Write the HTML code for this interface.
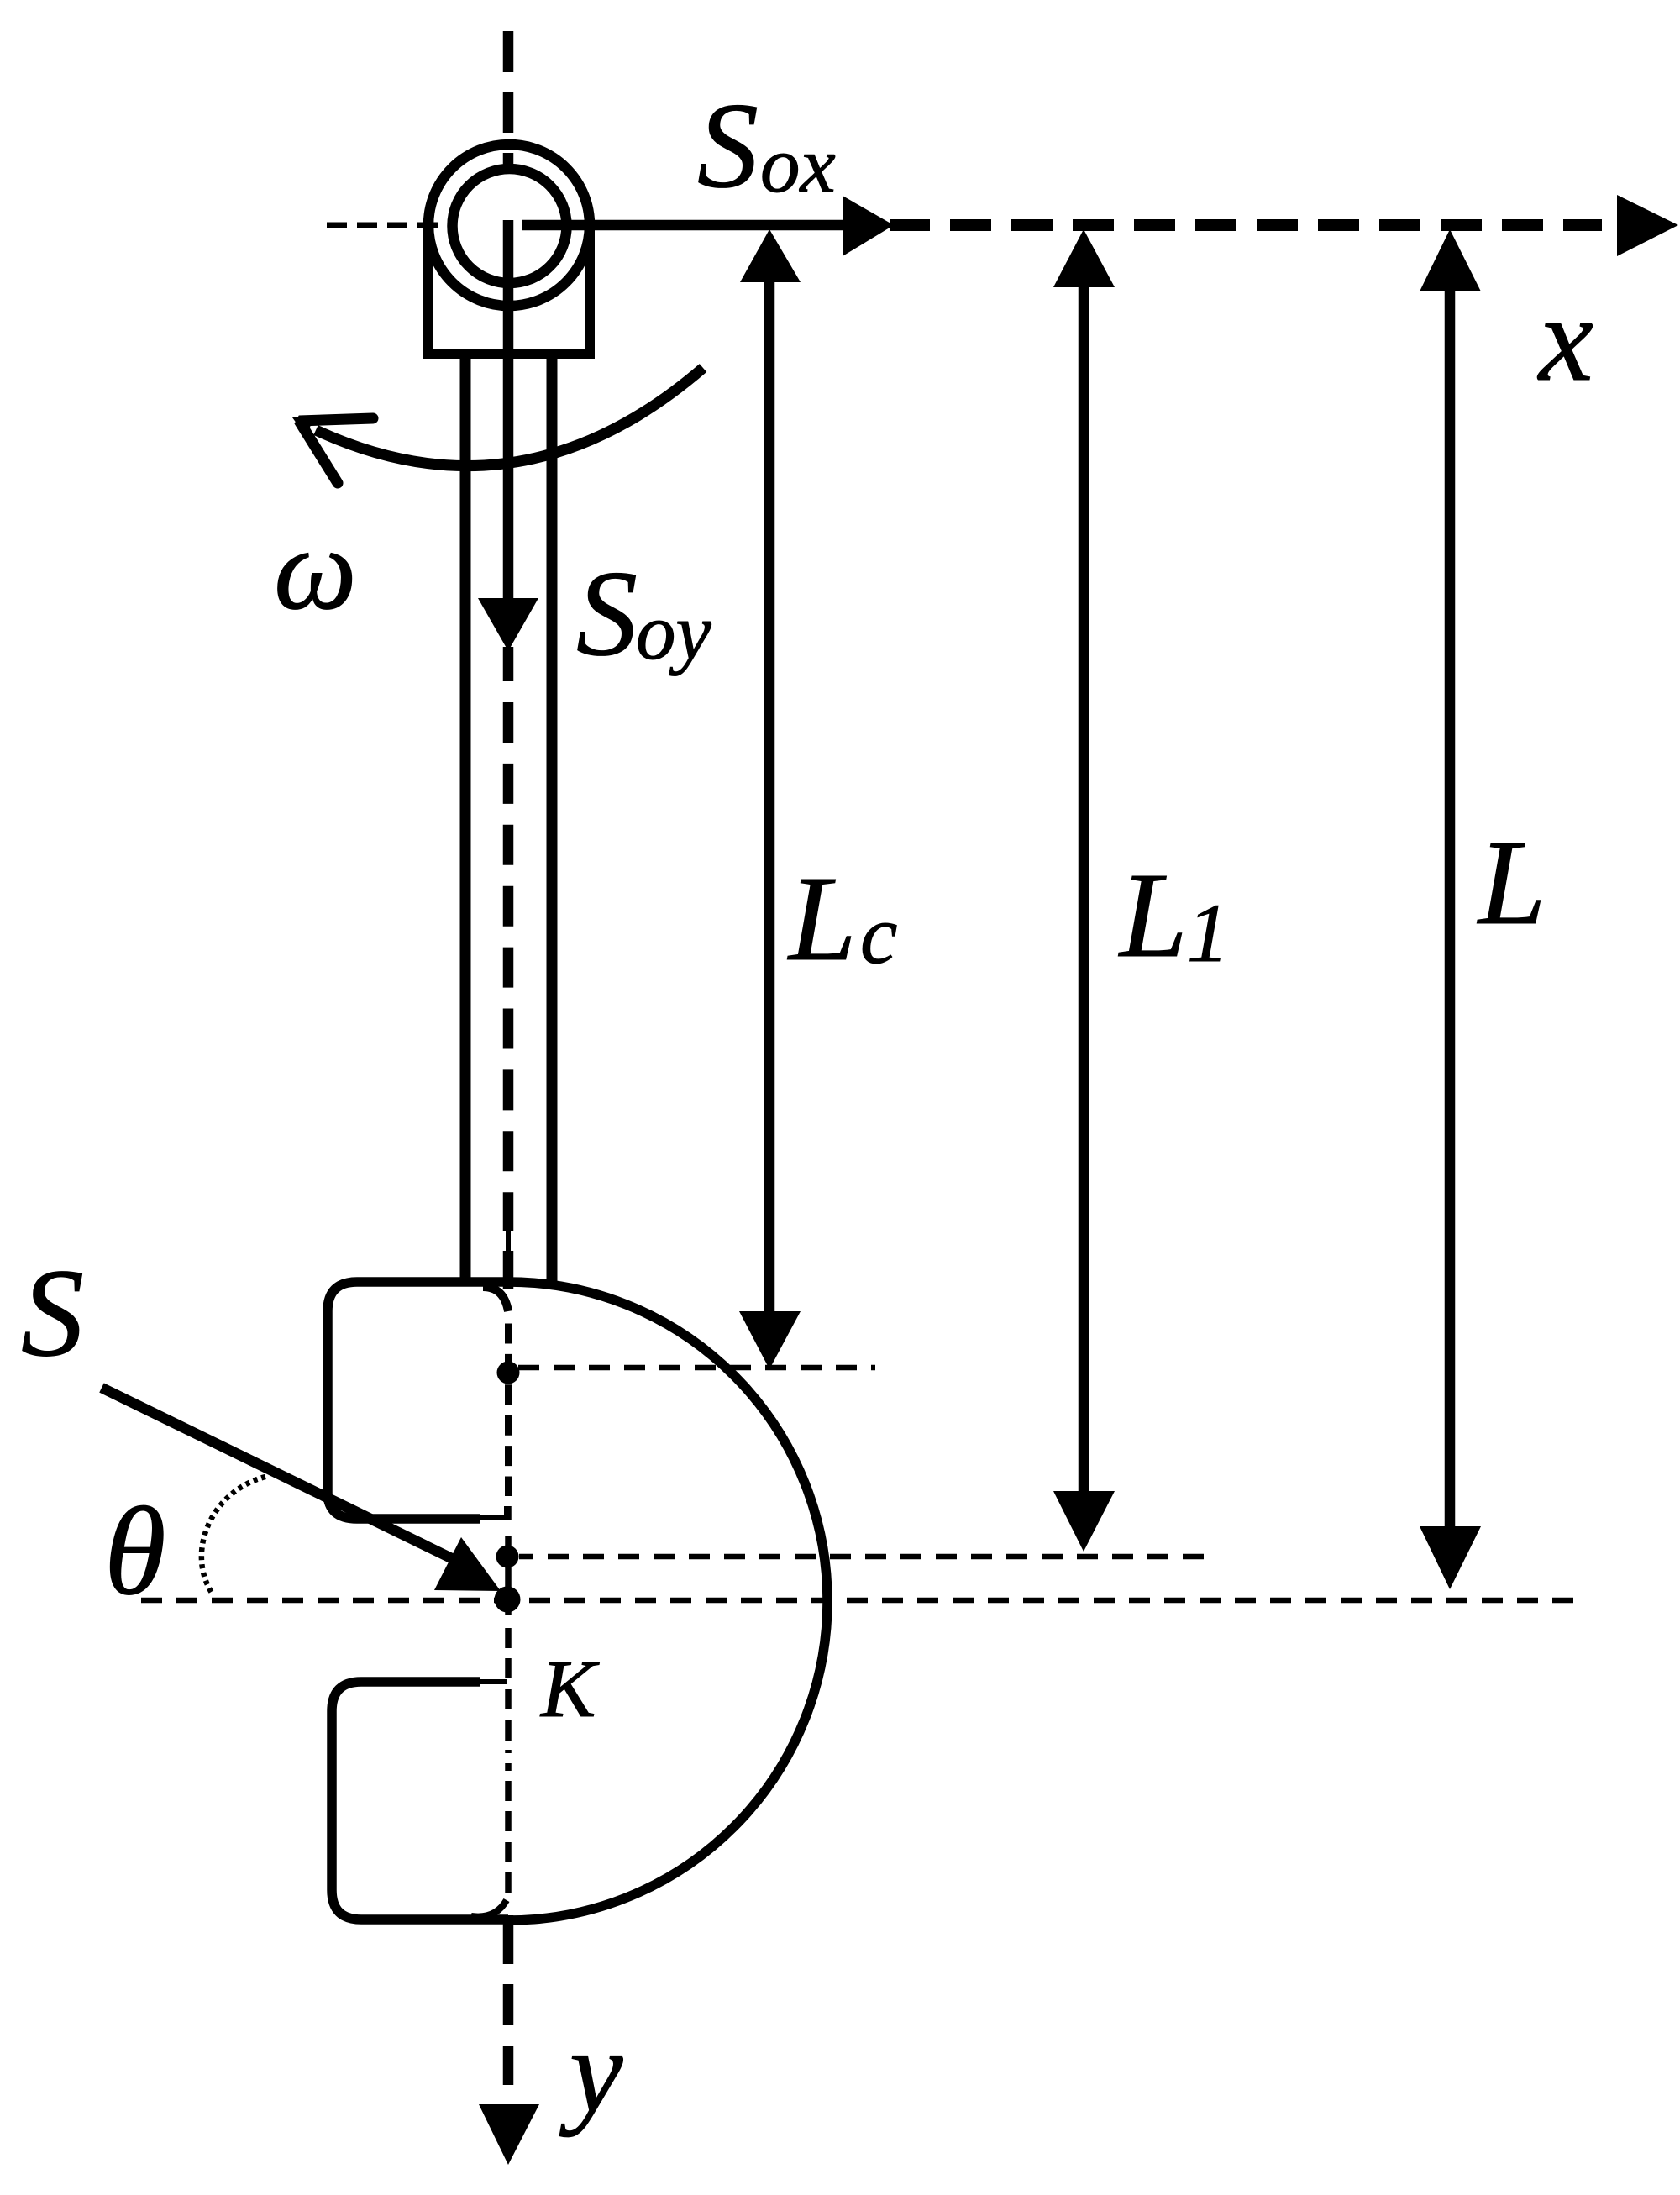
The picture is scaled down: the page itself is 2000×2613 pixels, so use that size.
<!DOCTYPE html>
<html>
<head>
<meta charset="utf-8">
<style>
html,body{margin:0;padding:0;background:#fff;}
svg{display:block;}
text{font-family:"Liberation Serif",serif;font-style:italic;fill:#000;stroke:#000;stroke-width:1;}
</style>
</head>
<body>
<svg width="2000" height="2613" viewBox="0 0 2000 2613" xmlns="http://www.w3.org/2000/svg">
<rect width="2000" height="2613" fill="#fff"/>
<g fill="none" stroke="#000" stroke-width="12.5">
  <!-- top axis -->
  <path d="M605 37V86M605 110V158M605 182V196"/>
  <!-- bearing -->
  <circle cx="606" cy="268" r="96"/>
  <circle cx="606.5" cy="269" r="68"/>
  <path d="M510 262V421H702V262" stroke-width="12"/>
  <!-- rod -->
  <path d="M554 427V1526M657 427V1526" stroke-width="13"/>
  <!-- solid center -->
  <path d="M605 262V720"/>
  <path d="M605 770V811"/>
  <path d="M605 836V1465" stroke-dasharray="48 24.9"/>
  <path d="M605 1465V1489" stroke-width="6"/>
  <path d="M605 1489V1535"/>
  <!-- Sox -->
  <path d="M622 268H1010"/>
  <path d="M1060 268H1107" stroke-width="14"/>
  <path d="M1131 268H1907" stroke-width="14" stroke-dasharray="49 24"/>
  <path d="M389 268H523" stroke-width="7" stroke-dasharray="24 12"/>
  <path d="M680 268H695" stroke-width="7"/>
  <!-- omega arc -->
  <path d="M837 438Q620 625 376 512" stroke-width="13"/>
  <path d="M444 498L356 501L402 575" stroke-linecap="round" stroke-linejoin="bevel" stroke-width="13"/>
  <polygon points="348,497 372,496 366,522" fill="#000" stroke="none"/>
  <!-- dimension lines -->
  <path d="M916 330V1565" stroke-width="12.5"/>
  <path d="M1290 336V1780" stroke-width="12.5"/>
  <path d="M1726 340V1822" stroke-width="12.5"/>
  <!-- head -->
  <path d="M605 1526H425Q390 1526 390 1561V1776Q390 1808 425 1808H571" stroke-width="11.5"/>
  <path d="M571 1807H603V1793" stroke-width="6"/>
  <path d="M575 1532Q600 1532 605 1561" stroke-width="10"/>
  <path d="M605 1526A380 380 0 0 1 605 2286" stroke-width="11.5"/>
  <path d="M571 2002H430Q395 2002 395 2037V2250Q395 2285 430 2285H605" stroke-width="11.5"/>
  <path d="M571 2002H603" stroke-width="6"/>
  <path d="M561 2281Q590 2285 603 2262" stroke-width="8"/>
  <!-- thin center dashes -->
  <path d="M605 1575V1781" stroke-width="8" stroke-dasharray="24 12.4" stroke-dashoffset="-0.5"/>
  <path d="M605 1793V1810M605 1829V1923M605 1938V1962M605 1974V1998M605 2011V2035M605 2047V2072M605 2083V2087M605 2099V2108M605 2120V2144M605 2156V2180M605 2193V2217M605 2229V2253" stroke-width="7.5"/>
  <!-- lower thick dashes -->
  <path d="M605 2280V2338M605 2362V2411M605 2436V2482"/>
  <!-- thin horizontals -->
  <path d="M617 1628H1042" stroke-width="6.5" stroke-dasharray="25 17"/>
  <path d="M618 1853H1441" stroke-width="6.5" stroke-dasharray="25 17" stroke-dashoffset="8"/>
  <path d="M168 1905H1891" stroke-width="6.5" stroke-dasharray="25 17"/>
  <!-- S force -->
  <path d="M121 1652L560 1866" stroke-width="12.5"/>
  <!-- theta arc -->
  <path d="M316 1758C250 1775 220 1850 254 1899" stroke-width="6.5" stroke-dasharray="5 5"/>
</g>
<g fill="#000" stroke="none">
  <polygon points="569,712 641,712 605,775"/>
  <polygon points="1003,233 1064,268 1003,305"/>
  <polygon points="1925,232 1998,268 1925,305"/>
  <polygon points="916,273 953,336 881,336"/>
  <polygon points="880,1561 953,1561 916,1630"/>
  <polygon points="1290,273 1327,342 1254,342"/>
  <polygon points="1254,1775 1327,1775 1290,1847"/>
  <polygon points="1726,273 1763,347 1690,347"/>
  <polygon points="1690,1817 1763,1817 1726,1892"/>
  <polygon points="549,1830 596,1894 517,1893"/>
  <polygon points="570,2505 642,2505 605,2577"/>
  <circle cx="605" cy="1634" r="13.5"/>
  <circle cx="604" cy="1853" r="13.5"/>
  <circle cx="604" cy="1904" r="15.5"/>
</g>
<text x="830" y="222" font-size="146">S</text>
<text x="905" y="228" font-size="95">ox</text>
<text x="686" y="779" font-size="146">S</text>
<text x="757" y="784" font-size="95">oy</text>
<text x="326" y="724" font-size="140">ω</text>
<text x="939" y="1142" font-size="145">L</text>
<text x="1024" y="1146" font-size="100">c</text>
<text x="1333" y="1138" font-size="145">L</text>
<text x="1413" y="1144" font-size="100">1</text>
<text x="1760" y="1099" font-size="145">L</text>
<text x="1832" y="452" font-size="146">x</text>
<text x="25" y="1613" font-size="150">S</text>
<text x="124" y="1897" font-size="150">θ</text>
<text x="644" y="2043" font-size="98">K</text>
<text x="678" y="2513" font-size="143">y</text>
</svg>
</body>
</html>
